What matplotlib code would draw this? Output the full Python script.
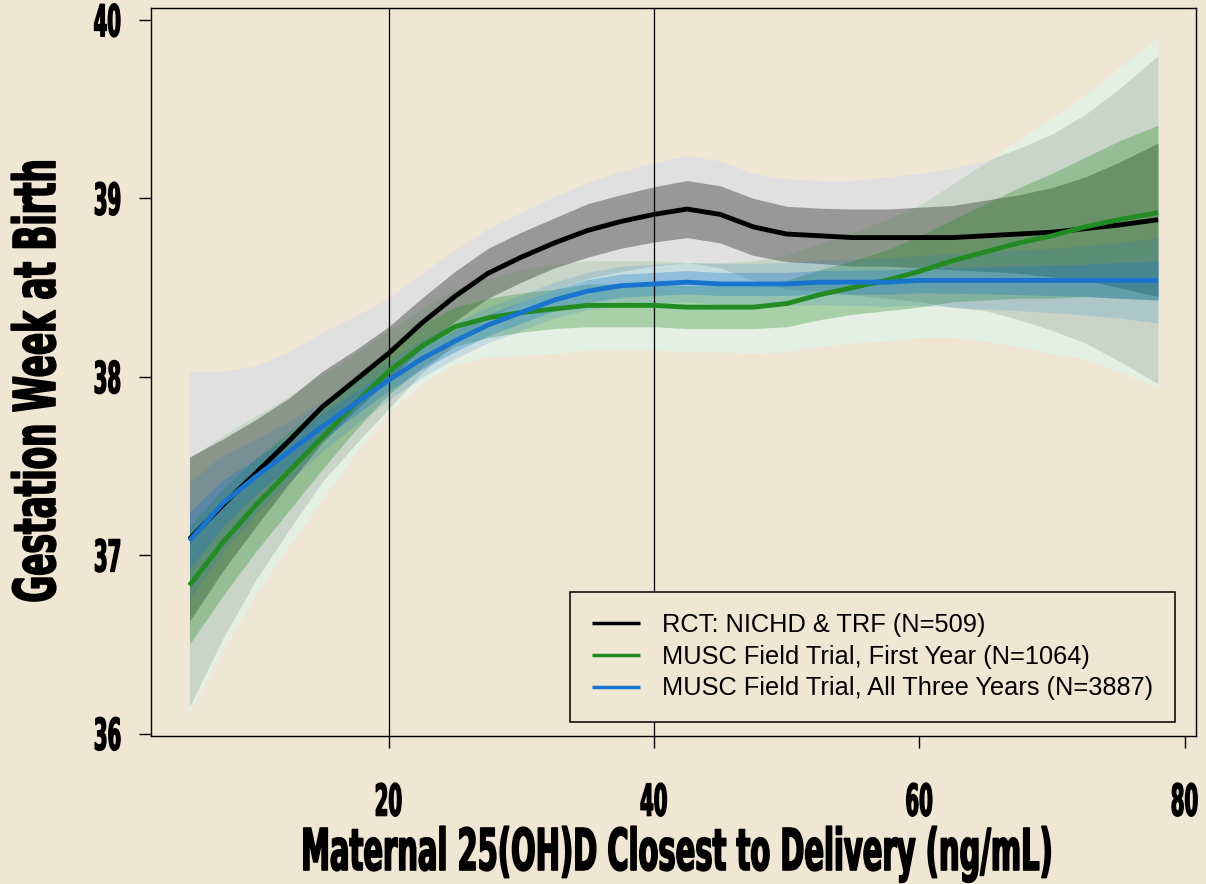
import numpy as np
import matplotlib
matplotlib.use("Agg")
import matplotlib.pyplot as plt
import matplotlib.patheffects as pe
from matplotlib.transforms import Affine2D

# x grid (ng/mL) at which the curves were read
vitd = [5, 7.5, 10, 12.5, 15, 17.5, 20, 22.5, 25, 27.5, 30, 32.5, 35, 37.5, 40,
        42.5, 45, 47.5, 50, 52.5, 55, 57.5, 60, 62.5, 65, 67.5, 70, 72.5, 75, 78]

# RCT: NICHD & TRF
rct_fit = [37.09, 37.28, 37.46, 37.64, 37.83, 37.98, 38.13, 38.30, 38.45, 38.58,
           38.67, 38.75, 38.82, 38.87, 38.91, 38.94, 38.91, 38.84, 38.80, 38.79,
           38.78, 38.78, 38.78, 38.78, 38.79, 38.80, 38.81, 38.83, 38.85, 38.88]
rct_inner = [0.46, 0.37, 0.30, 0.24, 0.20, 0.17, 0.15, 0.14, 0.14, 0.14,
             0.14, 0.14, 0.15, 0.15, 0.155, 0.16, 0.16, 0.16, 0.155, 0.155,
             0.16, 0.16, 0.17, 0.18, 0.20, 0.22, 0.25, 0.29, 0.35, 0.43]
rct_outer = [0.94, 0.75, 0.60, 0.50, 0.42, 0.36, 0.31, 0.28, 0.26, 0.25,
             0.25, 0.26, 0.27, 0.28, 0.29, 0.30, 0.30, 0.30, 0.31, 0.31,
             0.32, 0.34, 0.36, 0.39, 0.42, 0.48, 0.55, 0.64, 0.76, 0.92]

# MUSC field trial, first year
yr1_fit = [36.83, 37.07, 37.28, 37.47, 37.66, 37.85, 38.03, 38.17, 38.28, 38.33,
           38.36, 38.38, 38.40, 38.40, 38.40, 38.39, 38.39, 38.39, 38.41, 38.46,
           38.50, 38.54, 38.59, 38.65, 38.70, 38.75, 38.79, 38.84, 38.88, 38.92]
yr1_inner = [0.33, 0.30, 0.26, 0.22, 0.18, 0.15, 0.13, 0.12, 0.11, 0.11,
             0.11, 0.11, 0.12, 0.12, 0.12, 0.12, 0.12, 0.12, 0.13, 0.14,
             0.15, 0.17, 0.20, 0.23, 0.27, 0.31, 0.35, 0.39, 0.44, 0.49]
yr1_outer = [0.71, 0.60, 0.50, 0.42, 0.35, 0.28, 0.23, 0.21, 0.21, 0.22,
             0.24, 0.25, 0.25, 0.25, 0.25, 0.25, 0.25, 0.26, 0.27, 0.29,
             0.31, 0.34, 0.37, 0.43, 0.50, 0.58, 0.66, 0.74, 0.85, 0.98]

# MUSC field trial, all three years
all_fit = [37.08, 37.29, 37.44, 37.58, 37.72, 37.85, 37.98, 38.10, 38.20, 38.29,
           38.36, 38.43, 38.48, 38.51, 38.52, 38.53, 38.52, 38.52, 38.52, 38.53,
           38.53, 38.53, 38.54, 38.54, 38.54, 38.54, 38.54, 38.54, 38.54, 38.54]
all_inner = [0.16, 0.13, 0.10, 0.085, 0.075, 0.065, 0.06, 0.06, 0.06, 0.06,
             0.06, 0.06, 0.065, 0.065, 0.065, 0.065, 0.065, 0.065, 0.065, 0.065,
             0.067, 0.068, 0.07, 0.072, 0.075, 0.08, 0.085, 0.09, 0.10, 0.11]
all_outer = [0.33, 0.27, 0.21, 0.17, 0.14, 0.12, 0.11, 0.105, 0.10, 0.10,
             0.10, 0.10, 0.105, 0.11, 0.11, 0.11, 0.115, 0.115, 0.12, 0.125,
             0.13, 0.135, 0.14, 0.15, 0.16, 0.17, 0.18, 0.195, 0.21, 0.24]

labels = ["RCT: NICHD & TRF (N=509)",
          "MUSC Field Trial, First Year (N=1064)",
          "MUSC Field Trial, All Three Years (N=3887)"]
colors = ["black", "#228B22", "#1874CD"]
ref_lines = [20, 40]
xticks = [20, 40, 60, 80]
yticks = [36, 37, 38, 39, 40]

BG = "#F0E6D4"
HEAD = "DejaVu Sans"
CAP = 0.729  # cap / digit height of DejaVu Sans Bold, in em


class Stretch(pe.AbstractPathEffect):
    """Draw text taller than its layout box (tall condensed look)."""

    def __init__(self, sy, anchor="base", lw=0.0):
        super().__init__()
        self.sy = sy
        self.anchor = anchor
        self.lw = lw

    def draw_path(self, renderer, gc, tpath, affine, rgbFace=None):
        ext = tpath.get_extents()
        y0 = {"base": 0.0, "center": (ext.y0 + ext.y1) / 2, "top": ext.y1}[self.anchor]
        t = Affine2D().translate(0, -y0).scale(1.0, self.sy).translate(0, y0) + affine
        gc0 = renderer.new_gc()
        gc0.copy_properties(gc)
        if self.lw > 0:
            gc0.set_linewidth(self.lw)
            gc0.set_foreground(rgbFace)
            gc0.set_joinstyle("round")
        renderer.draw_path(gc0, tpath, t, rgbFace)
        gc0.restore()


fig = plt.figure(figsize=(12.06, 8.84), dpi=100, facecolor=BG)
ax = fig.add_axes([151 / 1206, 1 - 736 / 884, 1045 / 1206, 728 / 884])
ax.set_facecolor(BG)

x = np.array(vitd)
series = [(rct_fit, rct_inner, rct_outer),
          (yr1_fit, yr1_inner, yr1_outer),
          (all_fit, all_inner, all_outer)]

# bands were drawn over white in the original
for fit, inner, outer in series:
    f, o = np.array(fit), np.array(outer)
    ax.fill_between(x, f - o, f + o, color="white", lw=0, zorder=1)

alphas = [(0.12, 0.32), (0.12, 0.30), (0.15, 0.30)]
for (fit, inner, outer), c, (ao, ai) in zip(series, colors, alphas):
    f, i, o = np.array(fit), np.array(inner), np.array(outer)
    ax.fill_between(x, f - o, f + o, color=c, alpha=ao, lw=0, zorder=2)
    ax.fill_between(x, f - i, f + i, color=c, alpha=ai, lw=0, zorder=2)

for v in ref_lines:
    ax.axvline(v, color="black", lw=0.9, zorder=3)

for (fit, _, _), c, lab in zip(series, colors, labels):
    ax.plot(x, fit, color=c, lw=3.5, label=lab, zorder=4,
            solid_capstyle="butt", solid_joinstyle="round")

ax.set_xlim(2.1, 80.86)
ax.set_ylim(35.986, 40.067)
ax.set_xticks(xticks)
ax.set_yticks(yticks)
ax.tick_params(direction="out", length=8.6, width=1.0, color="black")
ax.tick_params(axis="y", pad=13)
ax.tick_params(axis="x", pad=25)
for s in ax.spines.values():
    s.set_linewidth(1.0)
    s.set_color("black")

leg = ax.legend(loc="lower right", bbox_to_anchor=(0.980, 0.0192), borderaxespad=0,
                prop={"family": "Liberation Sans", "size": 18.3}, frameon=True,
                fancybox=False, facecolor=BG, edgecolor="black", framealpha=1,
                handlelength=1.9, handletextpad=0.87, borderpad=0.85,
                labelspacing=0.3)
leg.get_frame().set_linewidth(1.1)
for h in leg.get_lines():
    h.set_linewidth(2.5)
leg.set_zorder(6)

xlab = fig.text(677 / 1206, 1 - 870 / 884, "Maternal 25(OH)D Closest to Delivery (ng/mL)",
                ha="center", va="baseline", fontsize=40, fontweight="bold", family=HEAD)
ylab = fig.text(55 / 1206, 1 - 381 / 884, "Gestation Week at Birth", rotation=90,
                rotation_mode="anchor", ha="center", va="baseline",
                fontsize=40, fontweight="bold", family=HEAD)

renderer = fig.canvas.get_renderer()


def fit_text(txts, ref, width_px, cap_px, anchor, lw):
    # shrink the font until the text is as wide as in the original,
    # then draw the glyphs taller to get the original height
    bb = ref.get_window_extent(renderer)
    w = max(bb.width, bb.height) if ref.get_rotation() else bb.width
    fs = ref.get_fontsize() * width_px / w
    sy = cap_px / (CAP * fs * 100 / 72)
    for t in txts:
        t.set_fontsize(fs)
        t.set_path_effects([Stretch(sy, anchor, lw)])


fit_text([xlab], xlab, 751, 42, "base", 1.2)
fit_text([ylab], ylab, 443, 42, "base", 1.2)

xt = ax.get_xticklabels()
yt = ax.get_yticklabels()
for t in xt + yt:
    t.set_fontfamily(HEAD)
    t.set_fontweight("bold")
    t.set_fontsize(20)
fit_text(xt, xt[1], 27.5, 32, "top", 1.0)
fit_text(yt, xt[1], 27.5, 32, "center", 1.0)

fig.savefig("out.png", dpi=100, facecolor=BG)
